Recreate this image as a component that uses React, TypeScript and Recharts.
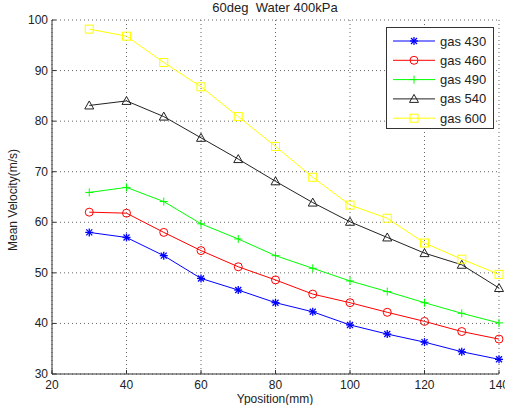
import React from "react";
import { LineChart, Line, XAxis, YAxis, CartesianGrid, Label } from "recharts";

// Y position along the channel (mm)
const yPosition = [30, 40, 50, 60, 70, 80, 90, 100, 110, 120, 130, 140];

// mean velocity (m/s) per gas setting
const gas430 = [58.0, 57.0, 53.4, 48.9, 46.6, 44.1, 42.3, 39.7, 37.9, 36.3, 34.4, 32.9];
const gas460 = [62.0, 61.8, 58.0, 54.4, 51.2, 48.6, 45.8, 44.1, 42.2, 40.4, 38.4, 36.9];
const gas490 = [65.9, 66.9, 64.1, 59.7, 56.7, 53.4, 50.9, 48.4, 46.3, 44.1, 42.0, 40.1];
const gas540 = [83.1, 84.0, 80.9, 76.7, 72.5, 68.1, 63.9, 60.1, 57.0, 53.9, 51.6, 47.0];
const gas600 = [98.2, 96.8, 91.6, 86.8, 80.9, 75.0, 68.9, 63.4, 60.8, 55.9, 52.7, 49.7];

const xTicks = [20, 40, 60, 80, 100, 120, 140];
const yTicks = [30, 40, 50, 60, 70, 80, 90, 100];

const FONT = '"Liberation Sans", Arial, Helvetica, sans-serif';
const TEXT = "#222";

type Shape = "star" | "circle" | "plus" | "triangle" | "square";

const series: { key: string; name: string; color: string; shape: Shape }[] = [
  { key: "g430", name: "gas 430", color: "#0000ff", shape: "star" },
  { key: "g460", name: "gas 460", color: "#ff0000", shape: "circle" },
  { key: "g490", name: "gas 490", color: "#00ff00", shape: "plus" },
  { key: "g540", name: "gas 540", color: "#222222", shape: "triangle" },
  { key: "g600", name: "gas 600", color: "#ffff00", shape: "square" },
];

const data = yPosition.map((x, i) => ({
  x,
  g430: gas430[i],
  g460: gas460[i],
  g490: gas490[i],
  g540: gas540[i],
  g600: gas600[i],
}));

function Marker({ shape, cx, cy, color }: { shape: Shape; cx: number; cy: number; color: string }) {
  if (cx == null || cy == null) return null;
  switch (shape) {
    case "star":
      return (
        <g stroke={color} strokeWidth={1.3}>
          <line x1={cx - 4} y1={cy} x2={cx + 4} y2={cy} />
          <line x1={cx} y1={cy - 4} x2={cx} y2={cy + 4} />
          <line x1={cx - 3} y1={cy - 3} x2={cx + 3} y2={cy + 3} />
          <line x1={cx - 3} y1={cy + 3} x2={cx + 3} y2={cy - 3} />
        </g>
      );
    case "circle":
      return <circle cx={cx} cy={cy} r={4} fill="none" stroke={color} strokeWidth={1} />;
    case "plus":
      return (
        <g stroke={color} strokeWidth={1}>
          <line x1={cx - 4} y1={cy} x2={cx + 4} y2={cy} />
          <line x1={cx} y1={cy - 4} x2={cx} y2={cy + 4} />
        </g>
      );
    case "triangle":
      return (
        <polygon
          points={`${cx},${cy - 4.5} ${cx - 4.5},${cy + 3.5} ${cx + 4.5},${cy + 3.5}`}
          fill="none"
          stroke={color}
          strokeWidth={1}
        />
      );
    case "square":
      return <rect x={cx - 4} y={cy - 4} width={8} height={8} fill="none" stroke={color} strokeWidth={1} />;
  }
  return null;
}

// MATLAB-style ticks: label outside, short tick pointing into the plot
function XTick({ x, y, payload }: any) {
  return (
    <g>
      <line x1={x} y1={y} x2={x} y2={y - 4} stroke="#333" />
      <text x={x} y={y + 15} textAnchor="middle" fontSize={12} fontFamily={FONT} fill={TEXT}>
        {payload.value}
      </text>
    </g>
  );
}

function YTick({ x, y, payload }: any) {
  return (
    <g>
      <line x1={x} y1={y} x2={x + 4} y2={y} stroke="#333" />
      <text x={x - 4} y={y + 4} textAnchor="end" fontSize={12} fontFamily={FONT} fill={TEXT}>
        {payload.value}
      </text>
    </g>
  );
}

function LegendBox() {
  return (
    <div
      style={{
        position: "absolute",
        left: 386,
        top: 27,
        width: 108,
        height: 102,
        boxSizing: "border-box",
        border: "1px solid #333",
        background: "#fff",
      }}
    >
      <svg width={106} height={100} style={{ display: "block" }}>
        {series.map((s, i) => {
          const cy = 13 + i * 19.3;
          return (
            <g key={s.key}>
              <line x1={6} y1={cy} x2={48} y2={cy} stroke={s.color} strokeWidth={1} />
              <Marker shape={s.shape} cx={27} cy={cy} color={s.color} />
              <text x={53} y={cy + 4.5} fontSize={13} fontFamily={FONT} fill={TEXT}>
                {s.name}
              </text>
            </g>
          );
        })}
      </svg>
    </div>
  );
}

export default function App() {
  return (
    <div style={{ position: "absolute", left: 0, top: 0, width: 505, height: 405, background: "#fff" }}>
      <LineChart width={505} height={405} data={data} margin={{ top: 20, right: 6, bottom: 0, left: 0 }}>
        <CartesianGrid stroke="#666" strokeDasharray="1 3" />
        <XAxis
          dataKey="x"
          type="number"
          domain={[20, 140]}
          ticks={xTicks}
          height={31}
          tickSize={0}
          tickMargin={0}
          axisLine={{ stroke: "#333" }}
          tickLine={false}
          tick={(p: any) => <XTick key={p.index} {...p} />}
          interval={0}
        >
          <Label
            content={() => (
              <text x={275} y={403} textAnchor="middle" fontSize={12} fontFamily={FONT} fill={TEXT}>
                Yposition(mm)
              </text>
            )}
          />
        </XAxis>
        <YAxis
          type="number"
          domain={[30, 100]}
          ticks={yTicks}
          width={52}
          tickSize={0}
          tickMargin={0}
          axisLine={{ stroke: "#333" }}
          tickLine={false}
          tick={(p: any) => <YTick key={p.index} {...p} />}
          interval={0}
        >
          <Label
            content={() => (
              <text
                x={17}
                y={200}
                transform="rotate(-90 17 200)"
                textAnchor="middle"
                fontSize={12}
                fontFamily={FONT}
                fill={TEXT}
              >
                Mean Velocity(m/s)
              </text>
            )}
          />
        </YAxis>
        <text x={275} y={12} textAnchor="middle" fontSize={13} fontFamily={FONT} fill={TEXT}>
          {"60deg\u00a0\u00a0Water 400kPa"}
        </text>
        {series.map((s) => (
          <Line
            key={s.key}
            dataKey={s.key}
            name={s.name}
            stroke={s.color}
            strokeWidth={1}
            isAnimationActive={false}
            dot={(p: any) => <Marker key={`${s.key}-${p.index}`} shape={s.shape} cx={p.cx} cy={p.cy} color={s.color} />}
            activeDot={false}
          />
        ))}
      </LineChart>
      <LegendBox />
    </div>
  );
}
